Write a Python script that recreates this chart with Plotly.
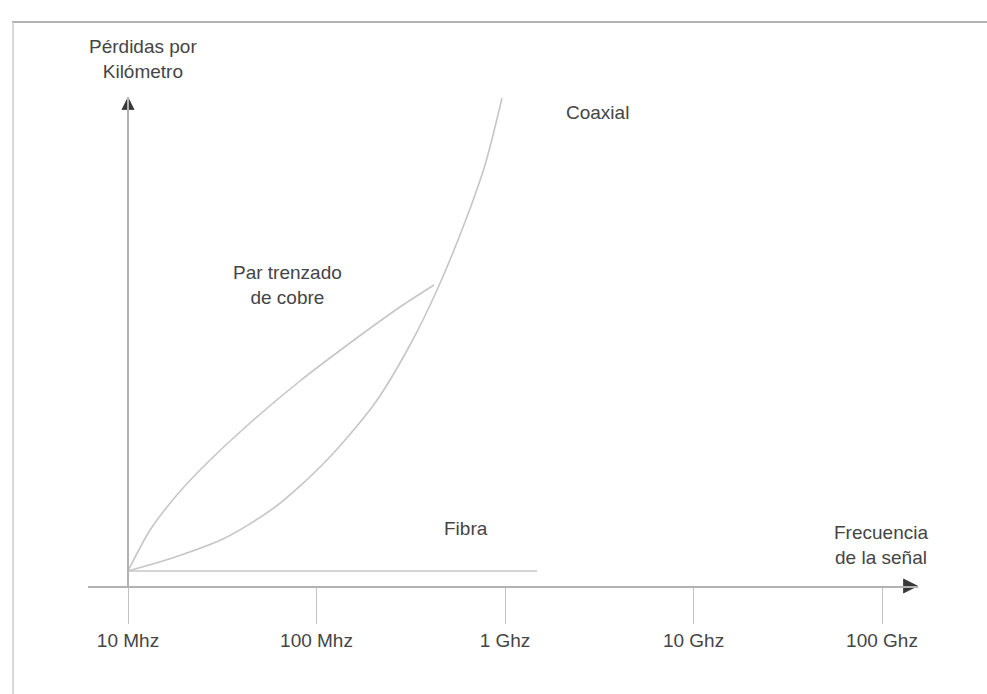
import plotly.graph_objects as go

# Frequency axis (MHz, log scale) and its labels
freq_tick_vals = [10, 100, 1000, 10000, 100000]
freq_tick_text = ["10 Mhz", "100 Mhz", "1 Ghz", "10 Ghz", "100 Ghz"]

# Loss per kilometre (arbitrary units) for each transmission medium
par_freq = [10, 13.1, 17.8, 24.1, 44.4, 81.7, 150.6, 277.3, 420]
par_loss = [3.0, 11.2, 17.8, 23.2, 32.6, 41.0, 48.6, 55.8, 60.2]

coax_freq = [10, 17.8, 32.7, 60.3, 111.0, 204.4, 313.3, 436, 613.5, 783.3, 964]
coax_loss = [3.0, 5.8, 9.6, 15.8, 24.8, 36.6, 48.2, 59.2, 72.8, 84.2, 97.6]

fibra_freq = [10, 1480]
fibra_loss = [3.0, 3.0]

# Page geometry
W, H = 987, 694
ML, MR, MT, MB = 88, 69, 97, 108
PW, PH = W - ML - MR, H - MT - MB
DECADE_PX = 188.5
X_MIN_LOG = 1 - 40 / DECADE_PX
X_MAX_LOG = X_MIN_LOG + PW / DECADE_PX
Y_MAX = 97.8
X_ARROW_MHZ = 10 ** (X_MAX_LOG - 0.5 / DECADE_PX)
Y_ARROW = Y_MAX - 0.1

CURVE = "#c6c6c6"
AXIS = "#b2b2b2"
TEXT = "#454545"
HEAD = "#383838"
FONT = "Liberation Sans, Arial, sans-serif"
FS = 19


def px_x(px):
    return (px - ML) / PW


def px_y(py):
    return (H - MB - py) / PH


fig = go.Figure()

for fx, fy in [(par_freq, par_loss), (coax_freq, coax_loss), (fibra_freq, fibra_loss)]:
    fig.add_trace(go.Scatter(
        x=fx, y=fy, mode="lines",
        line=dict(color=CURVE, width=1.6, shape="spline", smoothing=0.8),
        hoverinfo="skip", showlegend=False,
    ))

# Arrow heads closing both axes
fig.add_trace(go.Scatter(
    x=[10], y=[Y_ARROW], mode="markers",
    marker=dict(symbol="arrow-up", size=12, color=HEAD,
                line=dict(width=0.8, color=HEAD)),
    cliponaxis=False, hoverinfo="skip", showlegend=False,
))
fig.add_trace(go.Scatter(
    x=[X_ARROW_MHZ], y=[0], mode="markers",
    marker=dict(symbol="arrow-right", size=14, color=HEAD,
                line=dict(width=0.8, color=HEAD)),
    cliponaxis=False, hoverinfo="skip", showlegend=False,
))

labels = [
    ("Pérdidas por<br>Kilómetro", 143, 59),
    ("Coaxial", 597, 112),
    ("Par trenzado<br>de cobre", 287, 284.5),
    ("Fibra", 466, 528),
    ("Frecuencia<br>de la señal", 881, 544.5),
]
annotations = [
    dict(text=t, x=px_x(x), y=px_y(y), xref="paper", yref="paper",
         xanchor="center", yanchor="middle", showarrow=False,
         font=dict(family=FONT, size=FS, color=TEXT))
    for t, x, y in labels
]

# Border of the figure frame (top and left edges)
shapes = [
    dict(type="line", xref="paper", yref="paper",
         x0=px_x(12), x1=px_x(W + 5), y0=px_y(22), y1=px_y(22),
         line=dict(color="#b2b2b2", width=2)),
    dict(type="line", xref="paper", yref="paper",
         x0=px_x(13), x1=px_x(13), y0=px_y(22), y1=px_y(H + 5),
         line=dict(color="#cdcdcd", width=1.5)),
]

fig.update_layout(
    width=W, height=H,
    margin=dict(l=ML, r=MR, t=MT, b=MB, pad=0),
    paper_bgcolor="white", plot_bgcolor="white",
    font=dict(family=FONT, size=FS, color=TEXT),
    xaxis=dict(
        type="log", range=[X_MIN_LOG, X_MAX_LOG],
        showline=True, linecolor=AXIS, linewidth=1.5,
        ticks="outside", ticklen=36, tickwidth=1.2, tickcolor="#c2c2c2",
        tickvals=freq_tick_vals, ticktext=freq_tick_text,
        tickfont=dict(family=FONT, size=FS, color=TEXT),
        showgrid=False, zeroline=False, fixedrange=True,
    ),
    yaxis=dict(
        range=[0, Y_MAX], anchor="free", position=px_x(128),
        showline=True, linecolor=AXIS, linewidth=1.5,
        showticklabels=False, ticks="", showgrid=False, zeroline=False,
        fixedrange=True,
    ),
    annotations=annotations,
    shapes=shapes,
    showlegend=False,
)

fig.write_html("out.html", config={"displayModeBar": False})
